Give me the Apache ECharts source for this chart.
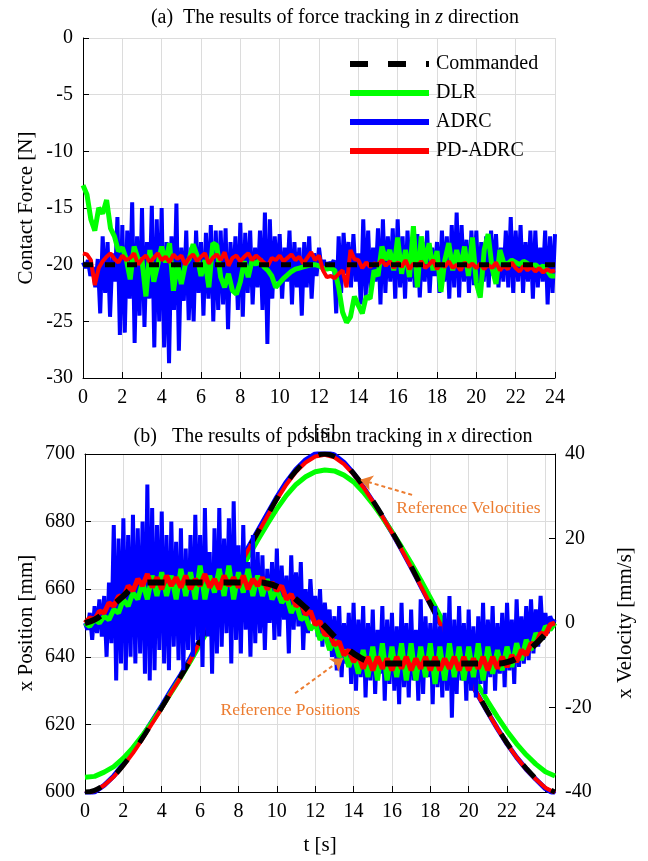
<!DOCTYPE html>
<html>
<head>
<meta charset="utf-8">
<script src="https://cdn.jsdelivr.net/npm/echarts@6/dist/echarts.min.js"></script>
<style>
html,body{margin:0;padding:0;background:#fff;}
#chart{width:648px;height:861px;}
</style>
</head>
<body>
<div id="chart"></div>
<script>
// ---------------- DATA ----------------
// (a) force tracking, sample steps
const forceFineStep = 0.125;   // ADRC sampling
const forceMidStep = 0.2;      // DLR / PD-ADRC sampling
const forceCommanded = [[0, -20], [24, -20]];
const forceADRC = [
-19.8,-20.3,-19.6,-21.0,-20.2,-22.0,-19.5,-24.3,
-17.5,-22.5,-18.0,-24.6,-19.0,-21.5,-15.8,-26.2,
-16.5,-26.0,-17.0,-23.0,-14.5,-26.9,-17.5,-24.5,
-15.0,-25.5,-18.0,-23.0,-14.8,-27.3,-16.0,-25.0,
-15.0,-27.3,-18.0,-28.7,-17.5,-24.0,-14.6,-27.6,
-18.5,-23.2,-17.0,-24.9,-18.5,-25.0,-17.0,-22.5,
-18.0,-24.5,-17.2,-23.0,-16.5,-25.0,-17.0,-24.0,
-17.0,-23.5,-16.8,-25.7,-18.0,-22.5,-17.5,-24.0,
-16.3,-24.6,-17.2,-22.5,-17.0,-23.5,-18.5,-22.0,
-17.0,-24.0,-15.4,-27.0,-16.0,-23.0,-17.5,-21.5,
-17.3,-23.0,-18.5,-21.5,-17.0,-23.5,-18.0,-22.0,
-18.5,-24.5,-18.0,-22.0,-17.5,-23.0,-19.0,-21.0,
-18.5,-20.3,-19.6,-20.4,-19.8,-20.0,-19.6,-24.3,
-17.5,-22.5,-17.2,-20.8,-18.0,-22.0,-17.3,-21.5,
-19.0,-23.5,-16.0,-22.8,-17.0,-22.5,-18.5,-21.5,
-16.8,-23.5,-16.0,-22.5,-17.5,-21.5,-16.8,-23.0,
-16.0,-22.0,-17.5,-23.0,-17.0,-21.5,-18.5,-22.0,
-17.3,-22.9,-18.0,-21.5,-17.0,-22.5,-18.5,-21.0,
-18.0,-22.5,-17.0,-21.5,-17.5,-23.0,-16.5,-22.0,
-15.4,-22.9,-16.5,-21.5,-17.8,-22.5,-17.0,-21.8,
-17.0,-22.5,-18.0,-21.5,-17.5,-22.0,-17.0,-21.0,
-17.3,-22.0,-18.5,-21.5,-17.0,-22.0,-15.8,-22.5,
-17.0,-21.5,-16.5,-22.5,-18.0,-21.5,-17.0,-23.0,
-17.0,-22.0,-18.5,-21.5,-17.0,-23.5,-17.5,-22.5,
-17.3
];
const forceDLR = [
-13.0,-13.8,-16.0,-17.0,-15.0,
-15.5,-14.3,-16.8,-17.5,-18.8,
-18.5,-19.5,-21.3,-18.4,-19.5,
-19.6,-22.8,-18.7,-21.5,-20.0,
-18.4,-19.8,-18.1,-22.3,-19.9,
-21.7,-20.0,-19.5,-18.2,-19.2,
-21.0,-19.6,-22.0,-18.1,-18.3,
-21.1,-22.0,-20.8,-22.3,-22.6,
-21.5,-19.7,-21.1,-19.6,-20.0,
-19.5,-20.2,-20.5,-21.0,-22.0,
-21.6,-21.2,-20.9,-20.6,-20.4,
-20.3,-20.2,-20.1,-20.0,-20.0,
-20.1,-20.3,-20.4,-20.3,-20.5,
-22.0,-24.2,-25.1,-24.6,-22.8,
-23.6,-24.3,-22.8,-23.0,-20.5,
-21.0,-18.4,-19.6,-18.7,-20.5,
-17.6,-20.8,-18.7,-21.1,-16.6,
-22.0,-17.5,-19.9,-18.1,-20.5,
-18.8,-22.4,-19.6,-18.1,-20.5,
-18.7,-20.3,-18.4,-21.0,-17.6,
-21.6,-22.9,-18.7,-17.3,-20.3,
-21.7,-18.7,-19.9,-19.9,-19.6,
-19.8,-20.0,-19.7,-19.9,-20.2,
-20.0,-20.3,-20.1,-20.5,-21.0,
-21.0
];
const forcePDADRC = [
-19.0,-19.1,-19.6,-21.8,-20.3,
-19.7,-19.3,-19.0,-19.5,-19.8,
-19.2,-19.6,-19.4,-19.0,-20.0,
-19.5,-19.2,-19.8,-19.4,-19.0,
-19.6,-19.3,-19.8,-19.1,-19.5,
-19.2,-20.0,-19.4,-19.1,-19.7,
-19.3,-19.0,-19.9,-19.4,-19.1,
-19.6,-18.9,-20.1,-19.4,-19.2,
-19.7,-19.3,-19.0,-19.6,-19.2,
-19.5,-19.8,-20.1,-19.4,-19.6,
-19.2,-19.7,-19.4,-19.1,-19.6,
-19.3,-19.9,-19.4,-18.9,-19.6,
-19.2,-20.5,-21.1,-21.0,-21.2,
-20.8,-20.5,-22.0,-18.7,-19.5,
-19.6,-20.3,-19.8,-20.2,-19.9,
-20.0,-19.6,-20.1,-19.7,-20.3,
-19.8,-20.2,-19.6,-20.4,-19.9,
-20.1,-19.7,-20.3,-20.0,-19.6,
-20.4,-19.9,-20.2,-19.7,-20.3,
-20.0,-20.5,-19.8,-20.2,-19.9,
-20.3,-19.9,-20.4,-20.0,-20.3,
-19.8,-20.5,-20.1,-20.4,-19.8,
-20.3,-20.6,-20.1,-20.5,-20.2,
-20.6,-20.3,-20.7,-20.4,-20.6,
-20.5
];

// (b) position tracking
const posFineStep = 0.125;  // ADRC position
const posMidStep = 0.25;    // DLR / PD-ADRC position
const refStep = 0.5;        // reference + velocities
const posCommanded = [
650,651,653,655.5,658,660.5,661.8,662,662,662,662,662,662,662,662,662,662,662,662,
661.7,660.8,659.2,657,654.5,651.8,649,646,643.2,641,639.3,638.4,
638,638,638,638,638,638,638,638,638,638,638,638,638,
638.4,639.5,641.3,643.8,646.8,650
];
const posADRC = [
650,648,653,645,655,647,657,646,
658,640,662,644,679,633,675,638,
681,636,676,640,682,638,678,641,
680,635,691,633,684,636,679,642,
683,638,676,636,680,643,674,639,
678,636,672,642,676,640,682,645,
676,637,684,646,671,635,678,641,
684,643,675,647,681,638,686,645,
673,641,679,648,668,640,676,644,
671,647,670,642,666,650,668,645,
672,646,667,651,664,641,670,648,
665,649,668,642,660,647,663,651,
658,646,660,643,656,648,654,640,
652,636,655,634,650,638,653,632,
656,630,651,634,655,628,650,633,
654,629,648,635,655,627,651,632,
653,630,649,626,656,631,650,628,
654,633,648,627,657,629,652,634,
650,626,655,631,649,628,653,630,
658,622,651,629,655,633,650,627,
654,630,649,628,652,632,656,629,
651,634,655,630,650,635,653,631,
656,636,651,632,657,637,652,638,
655,639,657,641,654,643,658,645,
653,647,652,650,651
];
const posDLR = [
650,649,651,650,
652,651,654,653,
657,655,659,657,
662,657,664,658,
665,658,664,657,
666,658,665,657,
667,657,664,659,
666,658,667,657,
665,659,666,658,
664,658,663,657,
660,656,658,653,
656,651,652,648,
650,645,647,642,
645,640,642,637,
641,635,642,634,
643,633,644,633,
643,634,644,633,
644,633,643,634,
644,632,643,633,
644,634,643,633,
643,634,644,633,
643,635,642,636,
643,637,644,639,
645,642,647,645,
649,648,650
];
const posPDADRC = [
650,651.5,651,653.5,
653,656,655,658,
657.5,661,659.5,663,
661,664.5,660.5,663.5,
660,664,661,663.5,
660.5,664,660,663,
661,664.5,660.5,663,
660,664,661,663.5,
660.5,664,660,663,
661,663.5,660,662,
659.5,661,657,658.5,
655,656,652.5,653.5,
649.5,650.5,646.5,647,
643.5,644.5,640.5,642,
638.5,640.5,636.5,640,
636,640,636.5,639.5,
636,640,636.5,640,
636,639.5,636.5,640,
636,640,636,639.5,
636.5,640,636,640,
636,639.5,636.5,640,
636,640,636.5,640,
637,640.5,638.5,642,
640.5,644,643.5,647,
646.5,649.5,650
];
const velCommanded = [
-40,-39.6,-38.2,-36.2,-33.6,-30.6,-27.2,-23.6,-20,-16.2,
-12.6,-8.6,-4.2,0.2,4.6,9,13.2,17.4,21.4,25.4,
29.4,33,36,38.2,39.5,40,39.4,37.8,35.4,32.4,
29,25.4,21.6,17.6,13.4,9,4.6,0.2,-4.2,-8.6,
-13,-17,-21,-24.8,-28.4,-31.6,-34.4,-36.8,-38.8,-40
];
const velDLR = [
-36.5,-36.3,-35.3,-34,-32,-29.5,-26.6,-23.4,-20,-16.4,
-12.8,-9,-5,-1,3,7.2,11.4,15.6,19.6,23.4,
27,30.2,32.8,34.6,35.8,36.2,36,35,33.4,31,
28.2,25,21.6,18,14.2,10.2,6,1.8,-2.4,-6.6,
-10.8,-14.8,-18.6,-22.2,-25.6,-28.6,-31.2,-33.4,-35.2,-36.2
];
const velADRC = [
-40.5,-40,-38.4,-36.2,-33.4,-30.2,-26.8,-23.2,-19.6,-15.8,
-12.2,-8.2,-3.8,0.6,5,9.4,13.6,17.8,21.8,25.8,
29.8,33.4,36.4,38.6,40,40.5,39.8,38,35.4,32.2,
28.8,25.2,21.4,17.4,13.2,8.8,4.4,0,-4.4,-8.8,
-13.2,-17.2,-21.2,-25,-28.6,-31.8,-34.6,-37,-39.2,-40.5
];
const velPDADRC = [
-40.2,-39.8,-38.4,-36.4,-33.8,-30.8,-27.4,-23.8,-20.2,-16.4,
-12.8,-8.8,-4.4,0,4.4,8.8,13,17.2,21.2,25.2,
29.2,32.8,35.8,38,39.4,39.8,39.2,37.6,35.2,32.2,
28.8,25.2,21.4,17.4,13.2,8.8,4.4,0,-4.4,-8.8,
-13.2,-17.2,-21.2,-25,-28.6,-31.8,-34.6,-37,-39,-40.2
];
// annotation anchors (data coords: t, position mm)
const annoVelText = [16.2, 684];
const annoVelArrow = [[17.05, 687.9], [14.35, 692.4]];
const annoPosText = [7.04, 624.2];
const annoPosArrow = [[10.95, 629.2], [13.46, 639.6]];

// ---------------- CHART ----------------
const FONT = 'Liberation Serif';
const ORANGE = '#EC7C30';
const GRIDC = '#dcdcdc';
function pairs(step, vals) { return vals.map((v, i) => [Math.round(i * step * 1000) / 1000, v]); }

function lineSeries(name, data, color, width, xi, yi, extra) {
  return Object.assign({
    name: name, type: 'line', data: data, xAxisIndex: xi, yAxisIndex: yi,
    showSymbol: false, symbol: 'none', animation: false, silent: true,
    lineStyle: { color: color, width: width }, itemStyle: { color: color }
  }, extra || {});
}

const axisCommon = {
  nameMoveOverlap: false,
  axisLine: { show: true, onZero: false, lineStyle: { color: '#000', width: 1 } },
  axisTick: { show: true, inside: true, length: 6, lineStyle: { color: '#000' } },
  axisLabel: { color: '#000', fontSize: 20, fontFamily: FONT, margin: 10 },
  splitLine: { show: true, lineStyle: { color: GRIDC, width: 1 } },
  nameTextStyle: { color: '#000', fontSize: 21, fontFamily: FONT }
};
function ax(o) { return Object.assign({}, JSON.parse(JSON.stringify(axisCommon)), o); }

const chart = echarts.init(document.getElementById('chart'), null, { renderer: 'canvas' });

const legendSym = { opacity: 0, borderWidth: 0 };
const option = {
  backgroundColor: '#fff',
  animation: false,
  grid: [
    { left: 83, top: 38, width: 472, height: 340 },
    { left: 85, top: 454, width: 470, height: 338 }
  ],
  legend: {
    orient: 'vertical', left: 347, top: 54, itemWidth: 79, itemHeight: 20, itemGap: 9,
    selectedMode: false, padding: 0,
    itemStyle: legendSym,
    textStyle: { color: '#000', fontSize: 20, fontFamily: FONT, padding: [0, 0, 0, 2] },
    data: [
      { name: 'Commanded', itemStyle: legendSym, lineStyle: { type: [18, 20], width: 6, opacity: 1 } },
      { name: 'DLR', itemStyle: legendSym, lineStyle: { width: 6, opacity: 1 } },
      { name: 'ADRC', itemStyle: legendSym, lineStyle: { width: 6, opacity: 1 } },
      { name: 'PD-ADRC', itemStyle: legendSym, lineStyle: { width: 6, opacity: 1 } }
    ]
  },
  xAxis: [
    ax({ gridIndex: 0, type: 'value', min: 0, max: 24, interval: 2, name: 't [s]', nameLocation: 'middle', nameGap: 44 }),
    ax({ gridIndex: 1, type: 'value', min: 0, max: 24.5, interval: 2, name: 't [s]', nameLocation: 'middle', nameGap: 43,
         axisLabel: { color: '#000', fontSize: 20, fontFamily: FONT, margin: 10, showMaxLabel: false,
                      formatter: v => (Math.abs(v % 2) < 1e-9 ? String(v) : '') } }),
    ax({ gridIndex: 1, type: 'value', min: 0, max: 24.5, interval: 2, position: 'top',
         axisLabel: { show: false }, axisTick: { show: false }, splitLine: { show: false } })
  ],
  yAxis: [
    ax({ gridIndex: 0, type: 'value', min: -30, max: 0, interval: 5, name: 'Contact Force [N]', nameLocation: 'middle', nameGap: 46 }),
    ax({ gridIndex: 1, type: 'value', min: 600, max: 700, interval: 20, name: 'x Position [mm]', nameLocation: 'middle', nameGap: 48 }),
    ax({ gridIndex: 1, type: 'value', min: -40, max: 40, interval: 20, position: 'right', name: 'x Velocity [mm/s]', nameLocation: 'middle', nameGap: 60,
         splitLine: { show: false } })
  ],
  series: [
    // (a)
    lineSeries('ADRC', pairs(forceFineStep, forceADRC), '#0000ff', 4, 0, 0),
    lineSeries('DLR', pairs(forceMidStep, forceDLR), '#00ff00', 5, 0, 0),
    lineSeries('PD-ADRC', pairs(forceMidStep, forcePDADRC), '#ff0000', 4, 0, 0),
    lineSeries('Commanded', forceCommanded, '#000000', 5, 0, 0, { lineStyle: { color: '#000', width: 5, type: [10, 12] } }),
    // (b) velocities (right axis)
    lineSeries('ADRC', pairs(refStep, velADRC), '#0000ff', 5, 1, 2),
    lineSeries('DLR', pairs(refStep, velDLR), '#00ff00', 5, 1, 2),
    lineSeries('PD-ADRC', pairs(refStep, velPDADRC), '#ff0000', 4, 1, 2),
    lineSeries('Commanded', pairs(refStep, velCommanded), '#000000', 5, 1, 2, { smooth: true, lineStyle: { color: '#000', width: 5, type: [17, 21] } }),
    // (b) positions (left axis)
    lineSeries('ADRC', pairs(posFineStep, posADRC), '#0000ff', 4, 1, 1),
    lineSeries('DLR', pairs(posMidStep, posDLR), '#00ff00', 5, 1, 1),
    lineSeries('PD-ADRC', pairs(posMidStep, posPDADRC), '#ff0000', 5, 1, 1),
    lineSeries('Commanded', pairs(refStep, posCommanded), '#000000', 6, 1, 1, {
      smooth: true,
      lineStyle: { color: '#000', width: 6, type: [17, 21] },
      markLine: {
        silent: true, animation: false, symbol: ['none', 'arrow'], symbolSize: 12,
        lineStyle: { color: ORANGE, width: 2, type: [4, 3] }, label: { show: false },
        data: [
          [{ coord: annoVelArrow[0] }, { coord: annoVelArrow[1] }],
          [{ coord: annoPosArrow[0] }, { coord: annoPosArrow[1] }]
        ]
      },
      markPoint: {
        silent: true, animation: false, symbol: 'circle', symbolSize: 1,
        itemStyle: { color: 'rgba(0,0,0,0)' },
        label: { show: true, position: 'right', distance: 0, color: ORANGE, fontSize: 17.5, fontFamily: FONT },
        data: [
          { coord: annoVelText, label: { formatter: 'Reference Velocities' } },
          { coord: annoPosText, label: { formatter: 'Reference Positions' } }
        ]
      }
    })
  ],
  graphic: [
    { type: 'text', x: 335, y: 18, silent: true,
      style: { text: '{n|(a)  The results of force tracking in }{i|z}{n| direction}', align: 'center', verticalAlign: 'middle',
        textAlign: 'center', textVerticalAlign: 'middle',
        rich: { n: { fontSize: 20, fontFamily: FONT, fill: '#000', color: '#000' },
                i: { fontSize: 20, fontFamily: FONT, fontStyle: 'italic', fill: '#000', color: '#000' } } } },
    { type: 'text', x: 333, y: 437, silent: true,
      style: { text: '{n|(b)   The results of position tracking in }{i|x}{n| direction}', align: 'center', verticalAlign: 'middle',
        textAlign: 'center', textVerticalAlign: 'middle',
        rich: { n: { fontSize: 20, fontFamily: FONT, fill: '#000', color: '#000' },
                i: { fontSize: 20, fontFamily: FONT, fontStyle: 'italic', fill: '#000', color: '#000' } } } }
  ]
};
chart.setOption(option);
</script>
</body>
</html>
